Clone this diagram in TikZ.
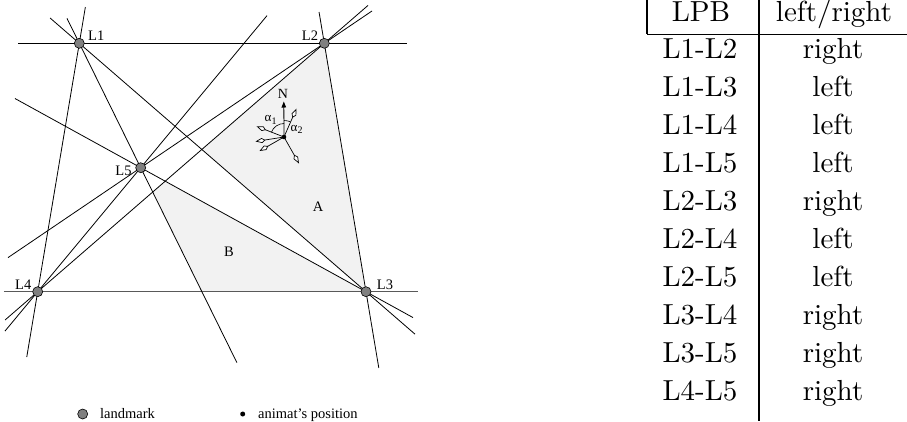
\documentclass[tikz,border=0pt]{standalone}
\usepackage{fontspec}
\newfontfamily\tmsfont{Liberation Serif}
\usetikzlibrary{calc,arrows.meta}
\begin{document}
\begin{tikzpicture}[x=1pt,y=-1pt,
  lpb/.style={line width=0.8pt},
  landmark/.style={circle,draw=black,line width=0.6pt,fill=gray,inner sep=0pt,minimum size=10pt},
  lbl/.style={font=\tmsfont\fontsize{14.5}{14.5}\selectfont,inner sep=0pt},
  tab/.style={scale=2.9,inner sep=0pt,anchor=base},
  dirarrow/.style={line width=0.7pt,-{Kite[fill=white,length=10pt,width=5pt,inset=3.5pt,line width=0.7pt]}},
  rule/.style={line width=1.1pt}
]
\useasboundingbox (0,0) rectangle (907,421);
% landmarks
\coordinate (L1) at (79.3,43.3);
\coordinate (L2) at (324.3,43.3);
\coordinate (L3) at (366,291.7);
\coordinate (L4) at (37.7,291.7);
\coordinate (L5) at (140.7,167.7);
% shaded regions
\coordinate (X) at (intersection of L2--L4 and L1--L3);
\coordinate (P) at (intersection of L2--L4 and L5--L3);
\coordinate (Q) at (intersection of L2--L4 and L1--L5);
\coordinate (R) at (intersection of L1--L5 and L4--L3);
\fill[gray!10] (L2) -- (X) -- (L3) -- cycle;
\fill[gray!10] (P) -- (Q) -- (R) -- (L3) -- cycle;
% landmark pair boundaries
\draw[lpb] ($(L1)!-0.25!(L2)$) -- ($(L1)!1.3375!(L2)$);
\draw[lpb,black!65,line width=1.1pt] ($(L4)!-0.1027!(L3)$) -- ($(L4)!1.158!(L3)$);
\draw[lpb] ($(L1)!-0.146!(L4)$) -- ($(L1)!1.263!(L4)$);
\draw[lpb] ($(L2)!-0.126!(L3)$) -- ($(L2)!1.307!(L3)$);
\draw[lpb] ($(L1)!-0.102!(L3)$) -- ($(L1)!1.171!(L3)$);
\draw[lpb] ($(L5)!-0.558!(L3)$) -- ($(L5)!1.2086!(L3)$);
\draw[lpb] ($(L1)!-0.2!(L5)$) -- ($(L1)!2.567!(L5)$);
\draw[lpb] ($(L2)!-0.1525!(L4)$) -- ($(L2)!1.114!(L4)$);
\draw[lpb] ($(L2)!-0.26!(L5)$) -- ($(L2)!1.7228!(L5)$);
\draw[lpb] ($(L4)!-0.3175!(L5)$) -- ($(L4)!2.226!(L5)$);
% landmark markers
\node[landmark] (m1) at (L1) {};
\node[landmark] (m2) at (L2) {};
\node[landmark] (m3) at (L3) {};
\node[landmark] (m4) at (L4) {};
\node[landmark] (m5) at (L5) {};
\node[lbl,anchor=base west] (t1) at (88,40.7) {L1};
\node[lbl,anchor=base east] (t2) at (318.3,40.7) {L2};
\node[lbl,anchor=base west] (t3) at (376.7,289.3) {L3};
\node[lbl,anchor=base west] (t4) at (15,289.3) {L4};
\node[lbl,anchor=base east] (t5) at (131.7,175.7) {L5};
\node[lbl,anchor=base] (tA) at (318,211.7) {A};
\node[lbl,anchor=base] (tB) at (229,256) {B};
% animat
\node[circle,fill=black,inner sep=0pt,minimum size=4.6pt] (an) at (284,137) {};
\coordinate (tN) at (283.8,101.5);
\coordinate (tUR) at (296.5,108.5);
\coordinate (tLU) at (256.5,126.3);
\coordinate (tL) at (255.5,141.5);
\coordinate (tLD) at (259.5,151);
\coordinate (tDR) at (299,163.5);
\draw[line width=0.8pt,-{Triangle[length=6pt,width=4.5pt]}] (an.center) -- (tN);
\draw[dirarrow] (an.center) -- (tUR);
\draw[dirarrow] (an.center) -- (tLU);
\draw[dirarrow] (an.center) -- (tL);
\draw[dirarrow] (an.center) -- (tLD);
\draw[dirarrow] (an.center) -- (tDR);
\draw[line width=0.6pt] ($(an.center)+(-160:13.5)$) arc[start angle=-160,end angle=-90,radius=13.5];
\draw[line width=0.6pt] ($(an.center)+(-67:16.5)$) arc[start angle=-67,end angle=-90,radius=16.5];
\node[lbl,font=\tmsfont\fontsize{14}{14}\selectfont,anchor=base] (tNl) at (283,98.3) {N};
\node[lbl,font=\tmsfont\fontsize{13}{13}\selectfont,anchor=base west] (ta1) at (264.5,121.5) {α\raisebox{-2.5pt}{\fontsize{10}{10}\selectfont 1}};
\node[lbl,font=\tmsfont\fontsize{13}{13}\selectfont,anchor=base west] (ta2) at (290.5,131) {α\raisebox{-2.5pt}{\fontsize{10}{10}\selectfont 2}};
% legend
\node[landmark] (lg1) at (82.7,414) {};
\node[lbl,anchor=base west] (lgt1) at (100,418.3) {landmark};
\node[circle,fill=black,inner sep=0pt,minimum size=5pt] (lg2) at (242.7,414) {};
\node[lbl,anchor=base west] (lgt2) at (258,418.3) {animat’s position};
% table
\draw[rule] (647,0) -- (647,34.3);
\draw[rule] (647,34.3) -- (907,34.3);
\draw[rule] (759,0) -- (759,421);
\node[tab] (h1) at (701,21.7) {LPB};
\node[tab] (h2) at (834,21.7) {left/right};
\foreach \a/\b [count=\i from 0] in {L1-L2/right,L1-L3/left,L1-L4/left,L1-L5/left,L2-L3/right,L2-L4/left,L2-L5/left,L3-L4/right,L3-L5/right,L4-L5/right}{
  \node[tab] (ra\i) at (700,58.3+38*\i) {\a};
  \node[tab] (rb\i) at (833,58.3+38*\i) {\b};
}
\end{tikzpicture}
\end{document}
